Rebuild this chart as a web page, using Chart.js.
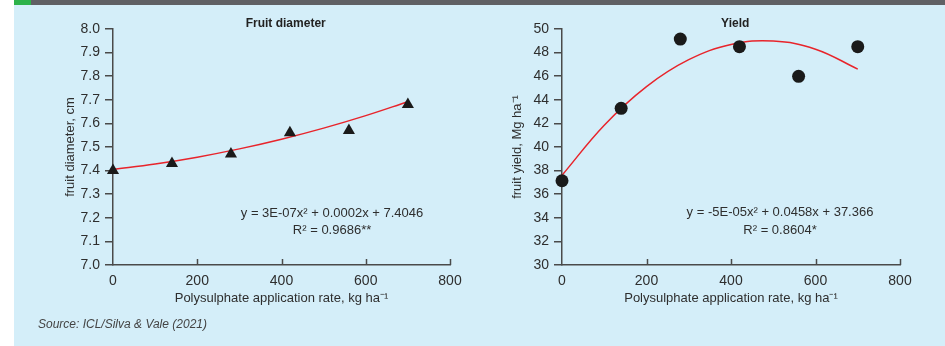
<!DOCTYPE html>
<html>
<head>
<meta charset="utf-8">
<script src="https://cdn.jsdelivr.net/npm/chart.js@4.4.1/dist/chart.umd.min.js"></script>
<style>
  body { margin: 0; width: 945px; height: 346px; overflow: hidden; background: #fff; position: relative; }
  #panel { position: absolute; left: 14px; top: 0; width: 931px; height: 346px; background: #d4eef9; }
  #bar { position: absolute; left: 14px; top: 0; width: 931px; height: 5px; background: #5f6064; }
  #green { position: absolute; left: 14px; top: 0; width: 17px; height: 5px; background: #2db24a; }
  .box { position: absolute; top: 0; height: 346px; }
  #source { position: absolute; left: 38px; top: 317px; font: italic 12px 'Liberation Sans', sans-serif; color: #444; }
</style>
</head>
<body>
<div id="panel"></div>
<div id="bar"></div>
<div id="green"></div>
<div class="box" style="left:0;width:470px"><canvas id="diameterChart"></canvas></div>
<div class="box" style="left:470px;width:475px"><canvas id="yieldChart"></canvas></div>
<div id="source">Source: ICL/Silva &amp; Vale (2021)</div>
<script>
// values
var doseRate = [0, 140, 280, 420, 560, 700];
var diameterCm = [7.40, 7.43, 7.47, 7.56, 7.57, 7.68];
var yieldMg = [37.14, 43.28, 49.15, 48.5, 45.99, 48.5];

// trend lines
var curveRate = [0, 100, 200, 300, 400, 500, 600, 700];
var diameterFit = [7.405, 7.428, 7.457, 7.492, 7.533, 7.580, 7.633, 7.692];
var yieldFit = [37.6, 41.85, 45.12, 47.40, 48.68, 48.98, 48.29, 46.6];

var xTicks = [0, 200, 400, 600, 800];

var FONT = "'Liberation Sans Narrow', 'Liberation Sans', sans-serif";
var AXIS = '#4a4a4a';
var TEXT = '#2e2e2e';

function pairs(xs, ys) {
    var out = [];
    for (var i = 0; i < xs.length; i++) out.push({x: xs[i], y: ys[i]});
    return out;
}

// title + equation text, plus inward x ticks
var notesPlugin = {
    id: 'notes',
    afterDatasetsDraw: function(chart, args, opts) {
        var ctx = chart.ctx;
        var xs = chart.scales.x, ys = chart.scales.y;
        ctx.save();
        ctx.strokeStyle = AXIS;
        ctx.lineWidth = 1.5;
        xTicks.forEach(function(v) {
            if (v === 0) return;
            var px = Math.round(xs.getPixelForValue(v)) + 0.5;
            ctx.beginPath();
            ctx.moveTo(px, chart.chartArea.bottom);
            ctx.lineTo(px, chart.chartArea.bottom - 6);
            ctx.stroke();
        });
        ctx.fillStyle = '#222';
        ctx.textAlign = 'center';
        ctx.textBaseline = 'middle';
        ctx.font = 'bold 12px ' + FONT;
        ctx.fillText(opts.title, xs.getPixelForValue(410), 24);
        ctx.fillStyle = TEXT;
        ctx.font = '13px ' + FONT;
        opts.lines.forEach(function(l) {
            ctx.fillText(l.text, xs.getPixelForValue(l.x), ys.getPixelForValue(l.y));
        });
        ctx.restore();
    }
};

function makeChart(id, cfg) {
    return new Chart(document.getElementById(id), {
        type: 'scatter',
        data: {
            datasets: [{
                data: pairs(doseRate, cfg.values),
                pointStyle: cfg.pointStyle,
                pointRadius: cfg.radius,
                pointBackgroundColor: '#1a1a1a',
                pointBorderColor: '#1a1a1a',
                pointBorderWidth: 0,
                clip: false
            }, {
                type: 'line',
                data: pairs(curveRate, cfg.fit),
                borderColor: '#e8242b',
                borderWidth: 1.5,
                pointRadius: 0,
                tension: 0.4,
                fill: false,
                clip: false
            }]
        },
        options: {
            responsive: false,
            animation: false,
            layout: { padding: cfg.padding },
            plugins: {
                legend: { display: false },
                tooltip: { enabled: false },
                notes: { title: cfg.title, lines: cfg.lines }
            },
            scales: {
                x: {
                    type: 'linear',
                    min: 0, max: 800,
                    afterBuildTicks: function(s) { s.ticks = xTicks.map(function(v) { return {value: v}; }); },
                    grid: { display: false, drawTicks: false },
                    border: { display: true, color: AXIS, width: 1.5 },
                    ticks: { color: TEXT, font: { family: FONT, size: 14 }, padding: 8, maxRotation: 0 },
                    title: { display: true, text: 'Polysulphate application rate, kg ha\u207B\u00B9', color: TEXT, font: { family: FONT, size: 13 }, padding: { top: 2, bottom: 4 } },
                    afterFit: function(s) { s.height = 45; }
                },
                y: {
                    min: cfg.yMin, max: cfg.yMax,
                    ticks: { stepSize: cfg.step, color: TEXT, font: { family: FONT, size: 14 }, padding: 5,
                        callback: cfg.fmt },
                    grid: { drawOnChartArea: false, drawTicks: true, tickLength: 8, color: AXIS, lineWidth: 1.5 },
                    border: { display: true, color: AXIS, width: 1.5 },
                    title: { display: true, text: cfg.yTitle, color: TEXT, font: { family: FONT, size: 13 }, padding: 4 },
                    afterFit: function(s) { s.width = cfg.yWidth; }
                }
            }
        },
        plugins: [notesPlugin]
    });
}

var c1 = document.getElementById('diameterChart');
c1.width = 470; c1.height = 346;
var c2 = document.getElementById('yieldChart');
c2.width = 475; c2.height = 346;

makeChart('diameterChart', {
    values: diameterCm, fit: diameterFit,
    pointStyle: 'triangle', radius: 7,
    yMin: 7, yMax: 8, step: 0.1,
    fmt: function(v) { return v.toFixed(1); },
    yTitle: 'fruit diameter, cm', yWidth: 54,
    padding: { left: 59, right: 20, top: 29, bottom: 36 },
    title: 'Fruit diameter',
    lines: [{ text: 'y = 3E-07x\u00B2 + 0.0002x + 7.4046', x: 520, y: 7.22 },
            { text: 'R\u00B2 = 0.9686**', x: 520, y: 7.148 }]
});

makeChart('yieldChart', {
    values: yieldMg, fit: yieldFit,
    pointStyle: 'circle', radius: 6.5,
    yMin: 30, yMax: 50, step: 2,
    fmt: function(v) { return String(v); },
    yTitle: 'fruit yield, Mg ha\u207B\u00B9', yWidth: 56,
    padding: { left: 36, right: 45, top: 29, bottom: 36 },
    title: 'Yield',
    lines: [{ text: 'y = -5E-05x\u00B2 + 0.0458x + 37.366', x: 516, y: 34.49 },
            { text: 'R\u00B2 = 0.8604*', x: 516, y: 32.97 }]
});
</script>
</body>
</html>
